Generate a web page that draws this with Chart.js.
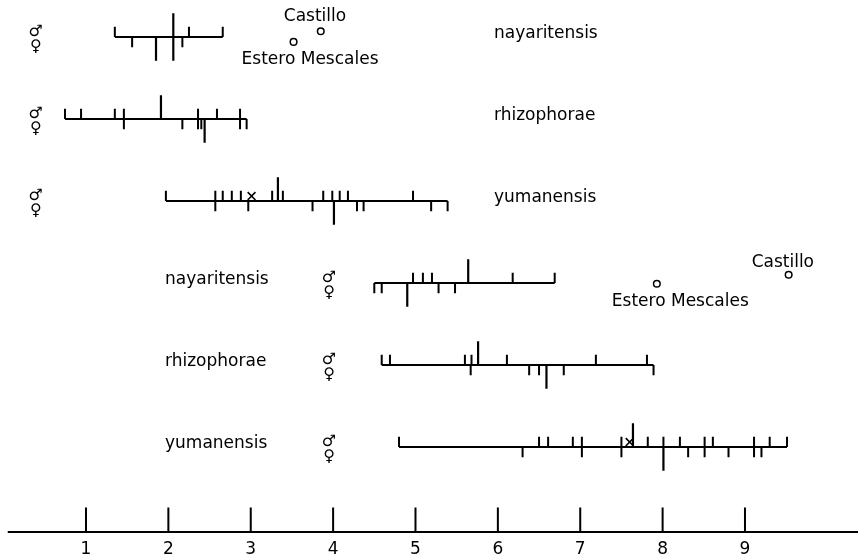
<!DOCTYPE html>
<html><head><meta charset="utf-8">
<script src="https://cdn.jsdelivr.net/npm/chart.js@4/dist/chart.umd.min.js"></script>
<style>html,body{margin:0;padding:0;background:#fff}canvas{display:block}</style>
</head><body>
<canvas id="c" width="858" height="557"></canvas>
<script>
// ---------- DATA ----------
const axisTicks = [1, 2, 3, 4, 5, 6, 7, 8, 9];
const rowNames = ['nayaritensis', 'rhizophorae', 'yumanensis', 'nayaritensis', 'rhizophorae', 'yumanensis'];
// short ticks above the line (males)
const maleValues = [
  [1.35, 2.25, 2.66],
  [0.745, 0.94, 1.35, 1.46, 2.36, 2.59, 2.87],
  [1.97, 2.57, 2.66, 2.77, 2.88, 3.26, 3.39, 3.88, 3.99, 4.08, 4.18, 4.97],
  [4.97, 5.09, 5.20, 6.18, 6.69],
  [4.59, 4.69, 5.60, 5.68, 6.11, 7.19, 7.81],
  [4.80, 6.50, 6.61, 6.91, 7.02, 7.50, 7.82, 8.01, 8.21, 8.51, 8.61, 9.11, 9.30, 9.51]
];
// short ticks below the line (females)
const femaleValues = [
  [1.56, 2.17],
  [1.46, 2.17, 2.36, 2.40, 2.87, 2.95],
  [2.57, 2.97, 3.75, 4.29, 4.37, 5.19, 5.39],
  [4.50, 4.59, 5.28, 5.48],
  [5.67, 6.38, 6.50, 6.80, 7.89],
  [6.30, 7.02, 7.50, 8.31, 8.51, 8.80, 9.11, 9.20]
];
// long ticks (means)
const maleMeans = [[2.06], [1.91], [3.33], [5.64], [5.76], [7.64]];
const femaleMeans = [[1.85, 2.06], [2.44], [4.01], [4.90], [6.59], [8.01]];
// type specimen (x mark): [row, value]
const typeMarks = [[2, 3.01], [5, 7.60]];
// locality points: [row, value]
const castilloPoints = [[0, 3.85], [3, 9.53]];
const esteroPoints = [[0, 3.52], [3, 7.93]];
const localityNames = ['Castillo', 'Estero Mescales'];
const sexSymbols = ['\u2642', '\u2640'];

// ---------- LAYOUT CONSTANTS ----------
const AXIS_LEVEL = 6.037;
const Y_MIN = -0.4512, Y_MAX = 6.0488;
const SHORT = 0.125, LONG = 0.29, AXIS_TICK = 0.3;
const FONT = '"DejaVu Sans", "Liberation Sans", sans-serif';

function segs(list) {
  const pts = [];
  list.forEach(([x0, y0, x1, y1]) => { pts.push({x: x0, y: y0}, {x: x1, y: y1}, {x: x1, y: null}); });
  return pts;
}
const rowLineSegs = [], shortSegs = [], longSegs = [];
rowNames.forEach((n, r) => {
  const all = maleValues[r].concat(femaleValues[r], maleMeans[r], femaleMeans[r]);
  rowLineSegs.push([Math.min(...all), r, Math.max(...all), r]);
  maleValues[r].forEach(v => shortSegs.push([v, r, v, r - SHORT]));
  femaleValues[r].forEach(v => shortSegs.push([v, r, v, r + SHORT]));
  maleMeans[r].forEach(v => longSegs.push([v, r, v, r - LONG]));
  femaleMeans[r].forEach(v => longSegs.push([v, r, v, r + LONG]));
});
const axisSegs = [[0.05, AXIS_LEVEL, 10.372, AXIS_LEVEL]];
axisTicks.forEach(v => axisSegs.push([v, AXIS_LEVEL, v, AXIS_LEVEL - AXIS_TICK]));

const lineDs = (data, w) => ({type: 'scatter', data: segs(data), showLine: true, spanGaps: false,
  borderColor: '#000', borderWidth: w, pointRadius: 0, clip: false, borderCapStyle: 'butt'});

const labelPlugin = {
  id: 'labels',
  afterDatasetsDraw(chart) {
    const {ctx, scales: {x, y}} = chart;
    ctx.save();
    ctx.fillStyle = '#000';
    ctx.font = '17px ' + FONT;
    ctx.textAlign = 'left';
    ctx.textBaseline = 'alphabetic';
    rowNames.forEach((n, r) => {
      const xv = r < 3 ? 5.953 : 1.959;
      ctx.fillText(n, x.getPixelForValue(xv), y.getPixelForValue(r) + 1);
    });
    // locality names
    castilloPoints.forEach(([r, v]) => {
      ctx.fillText(localityNames[0], x.getPixelForValue(v) - 37, y.getPixelForValue(r) - 16);
    });
    esteroPoints.forEach(([r, v], i) => {
      ctx.fillText(localityNames[1], x.getPixelForValue(v) - (i === 0 ? 52 : 45), y.getPixelForValue(r) + (i === 0 ? 27 : 23));
    });
    // sex symbols
    ctx.textAlign = 'center';
    ctx.textBaseline = 'middle';
    ctx.font = '16px ' + FONT;
    rowNames.forEach((n, r) => {
      const xv = r < 3 ? 0.39 : 3.95;
      const px = x.getPixelForValue(xv), py = y.getPixelForValue(r);
      ctx.fillText(sexSymbols[0], px, py - 5);
      ctx.fillText(sexSymbols[1], px, py + 10);
    });
    ctx.restore();
  }
};

new Chart(document.getElementById('c'), {
  type: 'scatter',
  data: {
    datasets: [
      lineDs(rowLineSegs, 2),
      lineDs(shortSegs, 2),
      lineDs(longSegs, 2.2),
      lineDs(axisSegs, 2),
      {type: 'scatter', data: typeMarks.map(([r, v]) => ({x: v, y: r - 0.06})), pointStyle: 'crossRot',
        pointRadius: 5.5, borderColor: '#000', borderWidth: 1.6, backgroundColor: '#000', clip: false},
      {type: 'scatter', data: castilloPoints.map(([r, v]) => ({x: v, y: r - (r === 0 ? 0.07 : 0.1)})).concat(
        esteroPoints.map(([r, v]) => ({x: v, y: r + (r === 0 ? 0.06 : 0.01)}))),
        pointStyle: 'circle', pointRadius: 3.3, borderColor: '#000', borderWidth: 1.5, backgroundColor: '#fff', clip: false}
    ]
  },
  options: {
    responsive: false,
    animation: false,
    events: [],
    layout: {padding: 0, autoPadding: false},
    plugins: {legend: {display: false}, tooltip: {enabled: false}},
    scales: {
      x: {
        type: 'linear', min: -0.044, max: 10.372, position: 'bottom',
        border: {display: false},
        grid: {display: false, drawTicks: false},
        ticks: {color: '#000', font: {family: FONT, size: 17, lineHeight: 1.0}, padding: 8, autoSkip: false, maxRotation: 0},
        afterBuildTicks: s => { s.ticks = axisTicks.map(v => ({value: v})); },
        afterFit: s => { s.height = 24; }
      },
      y: {type: 'linear', reverse: true, min: Y_MIN, max: Y_MAX, display: false}
    }
  },
  plugins: [labelPlugin]
});
</script>
</body></html>
